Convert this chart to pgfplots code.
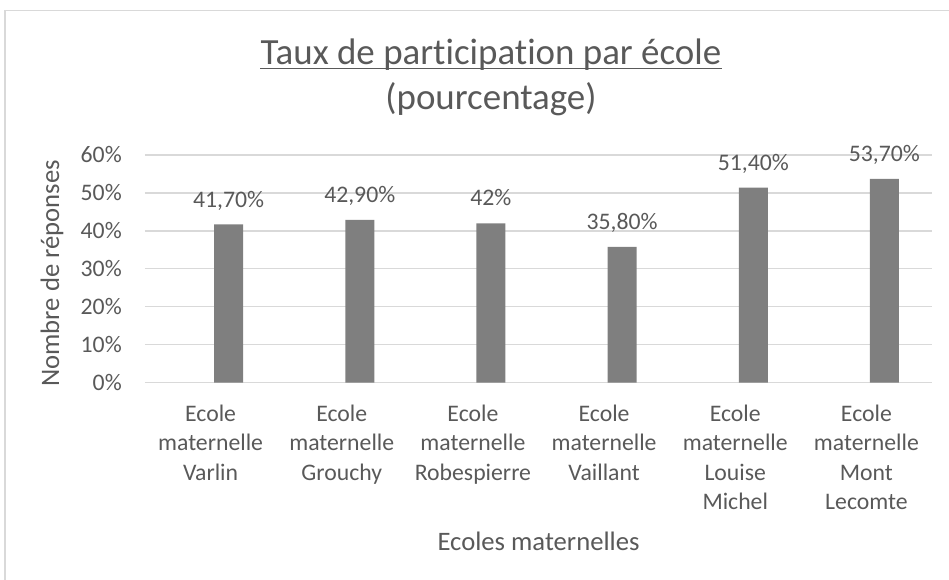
\documentclass[border=0pt]{standalone}
\usepackage{pgfplots}
\pgfplotsset{compat=1.18}
\usepackage{fontspec}
\setmainfont{Carlito}[Ligatures=NoCommon]
\definecolor{ctext}{HTML}{595959}
\definecolor{cgrid}{HTML}{D9D9D9}
\definecolor{cbar}{HTML}{7F7F7F}

\begin{document}
\begin{tikzpicture}
\path[use as bounding box] (-108.75pt,-148pt) rectangle (603pt,287pt);
\draw[cgrid,line width=1.2pt] (-105pt,-148pt) -- (-105pt,279pt) -- (603pt,279pt);
\begin{axis}[
  at={(0,0)},anchor=south west,
  scale only axis,width=590.25pt,height=170.8pt,
  xmin=-0.5,xmax=5.5,ymin=0,ymax=60,
  ytick={0,10,...,60},
  yticklabel={\pgfmathprintnumber{\tick}\%},
  xtick={0,1,2,3,4,5},
  xticklabels={Ecole maternelle Varlin,Ecole maternelle Grouchy,Ecole maternelle Robespierre,Ecole maternelle Vaillant,Ecole maternelle Louise Michel,Ecole maternelle Mont Lecomte},
  /pgf/number format/assume math mode=true,
  axis line style={draw=none},
  tick style={draw=none},
  ymajorgrids,
  major grid style={cgrid,line width=1pt},
  yticklabel style={font=\fontsize{17.8}{21}\selectfont,text=ctext,anchor=east,inner sep=0pt,xshift=-17.25pt},
  xticklabel style={font=\fontsize{17.8}{22.1}\selectfont,text=ctext,anchor=north,inner sep=0pt,yshift=-16.5pt,text width=98pt,align=center},
  ylabel={Nombre de réponses},
  ylabel style={at={(axis description cs:-0.1182,0.48)},anchor=center,font=\fontsize{20}{24}\selectfont,text=ctext},
  xlabel={Ecoles maternelles},
  xlabel style={at={(axis description cs:0.5,0)},anchor=base,yshift=-126.2pt,font=\fontsize{20}{24}\selectfont,text=ctext},
  clip=false,
]
\addplot[ybar,bar width=21.75pt,bar shift=13.5pt,fill=cbar,draw=none,
  nodes near coords,point meta=explicit symbolic,
  every node near coord/.append style={font=\fontsize{17.8}{21}\selectfont,text=ctext,anchor=base,inner sep=0pt,xshift=13.5pt,yshift=13pt}]
  coordinates {(0,41.7)[41,70\%] (1,42.9)[42,90\%] (2,42)[42\%] (3,35.8)[35,80\%] (4,51.4)[51,40\%] (5,53.7)[53,70\%]};
\end{axis}
\node[anchor=base,inner sep=0pt,text=ctext,font=\fontsize{27.7}{32}\selectfont] (t) at (259.5pt,238.3pt) {Taux de participation par école};
\draw[ctext,line width=1pt] ([yshift=-2.6pt]t.base west) -- ([yshift=-2.6pt]t.base east);
\node[anchor=base,text=ctext,font=\fontsize{27.7}{32}\selectfont] at (259.5pt,204.5pt) {(pourcentage)};
\end{tikzpicture}
\end{document}
